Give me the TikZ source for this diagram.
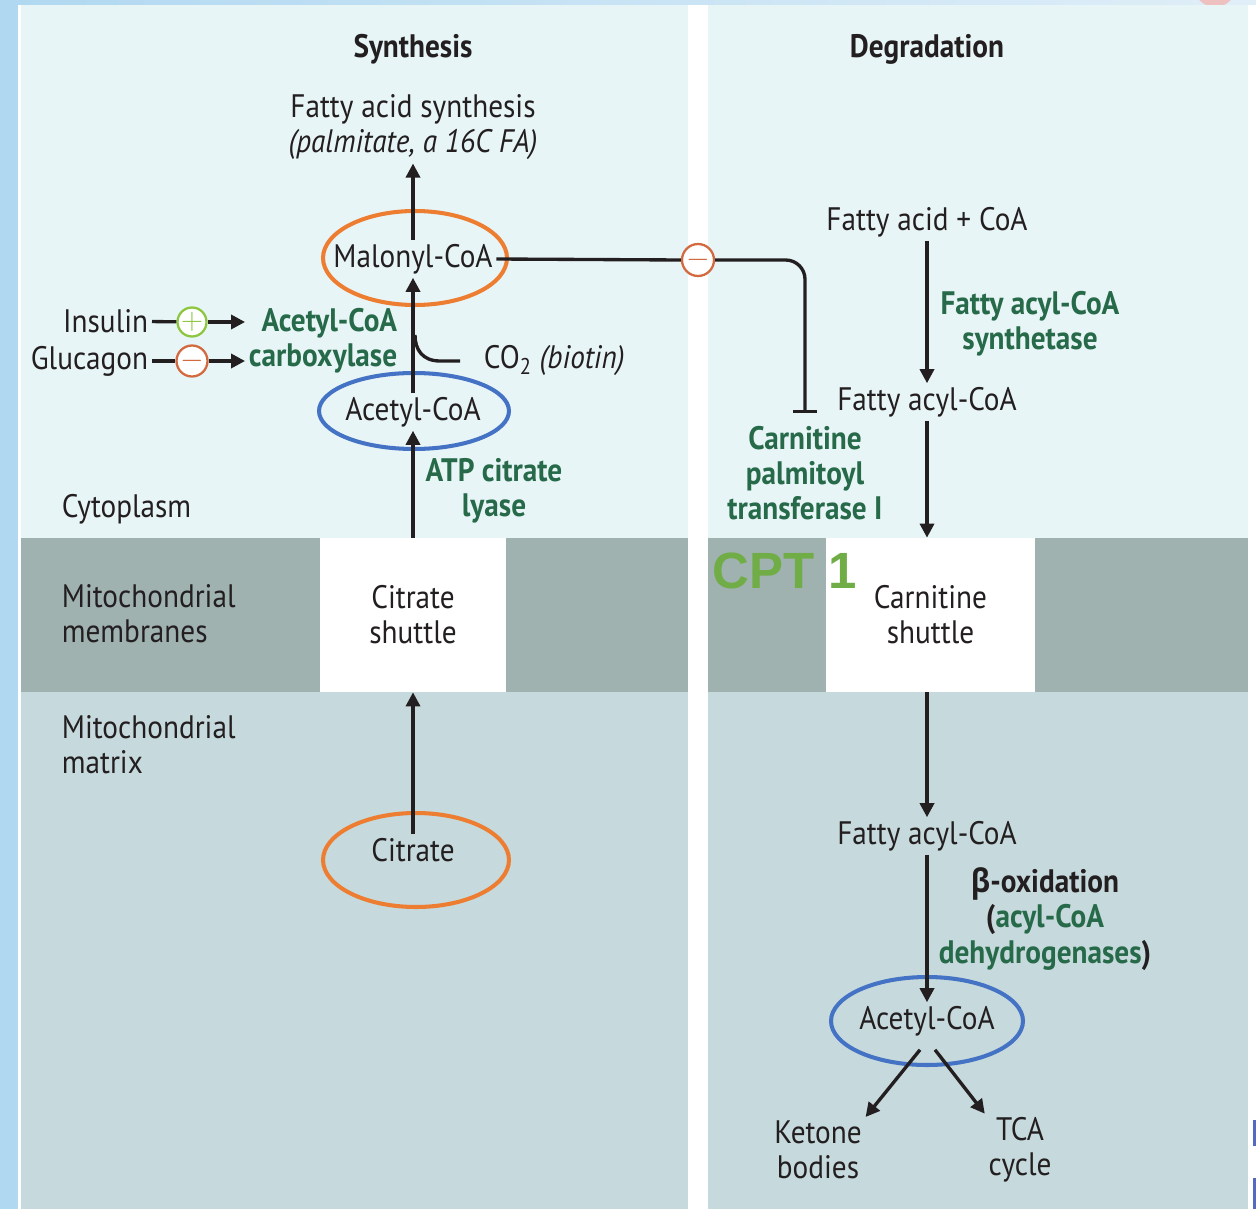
\documentclass[tikz,border=0pt]{standalone}
\usepackage{fontspec}
\setmainfont[FakeStretch=0.9]{PT Sans}
\newfontfamily\cptfont{Liberation Sans}
\newfontfamily\greekfont[FakeStretch=0.9]{Open Sans}
\usetikzlibrary{arrows.meta}

\definecolor{ink}{HTML}{231F20}
\definecolor{enzgreen}{HTML}{276A4A}
\definecolor{cptgreen}{HTML}{70AD47}
\definecolor{cytofill}{HTML}{E8F5F7}
\definecolor{memfill}{HTML}{9FB2B0}
\definecolor{matfill}{HTML}{C6D9DC}
\definecolor{ringorange}{HTML}{ED7D31}
\definecolor{ringblue}{HTML}{4472C4}
\definecolor{plusgreen}{HTML}{8DC63F}
\definecolor{minusred}{HTML}{D2693F}
\definecolor{frameblue}{HTML}{B0D8F1}
\definecolor{framelight}{HTML}{E0EEF8}
\definecolor{cornerpink}{HTML}{EEC0C0}
\definecolor{edgeblue}{HTML}{5468C4}

\begin{document}
\begin{tikzpicture}[x=0.02cm,y=-0.02cm,
    every node/.style={font=\fontsize{18.5}{20}\selectfont, text=ink, inner sep=2pt},
    head/.style={font=\fontsize{18.5}{20}\selectfont\bfseries},
    lbl/.style={align=center},
    enz/.style={align=center, text=enzgreen, font=\fontsize{18.5}{20}\selectfont\bfseries},
    region/.style={anchor=west, align=left},
    shuttle/.style={fill=white, minimum height=3.08cm, align=center},
    line/.style={line width=1.9pt, draw=ink},
    arr/.style={line, -{Triangle[length=8pt,width=8pt]}},
    sign/.style={circle, draw, fill=white, line width=1.3pt, minimum size=0.58cm, inner sep=0pt},
    ring/.style={line width=2.3pt}
  ]
  \useasboundingbox (0,0) rectangle (1256,1209);

  % frame and panels
  \fill[white] (0,0) rectangle (1256,1209);
  \fill[frameblue] (0,0) rectangle (18,1209);
  \shade[left color=frameblue, right color=framelight] (0,0) rectangle (1256,5);
  \begin{scope}
    \clip (0,0) rectangle (1256,5);
    \fill[cornerpink] (1215,-14) circle [radius=0.42cm];
  \end{scope}
  \fill[edgeblue] (1253,1120) rectangle (1256,1146);
  \fill[edgeblue] (1253,1178) rectangle (1256,1209);
  \foreach \xa/\xb in {21/688, 708/1248} {
    \fill[cytofill] (\xa,5) rectangle (\xb,538);
    \fill[memfill] (\xa,538) rectangle (\xb,692);
    \fill[matfill] (\xa,692) rectangle (\xb,1209);
  }

  % synthesis side
  \node[head] (synth) at (413,49) {Synthesis};
  \node[lbl] (fasyn) at (413,127) {Fatty acid synthesis\\\textit{(palmitate, a 16C FA)}};
  \node (malonyl) at (413,259) {Malonyl-CoA};
  \node (acetylS) at (413,412) {Acetyl-CoA};
  \node[enz, align=right, anchor=east] (acc) at (401,341) {Acetyl-CoA\\carboxylase};
  \node[anchor=east] (insulin) at (152,321) {Insulin};
  \node[anchor=east] (glucagon) at (152,361) {Glucagon};
  \node[sign, draw=plusgreen] (pos) at (192,322) {\color{plusgreen}$+$};
  \node[sign, draw=minusred] (neg) at (192,361) {\color{minusred}$-$};
  \node[anchor=west] (co2) at (480,361) {CO\textsubscript{2} \textit{(biotin)}};
  \node[enz] (acl) at (494,491) {ATP citrate\\lyase};
  \node[region] (cyto) at (58,509) {Cytoplasm};
  \node[region] (memb) at (58,614) {Mitochondrial\\membranes};
  \node[region] (matrix) at (58,745) {Mitochondrial\\matrix};
  \node[shuttle, minimum width=3.72cm] (shuttleL) at (413,615) {Citrate\\shuttle};
  \node (citrate) at (413,850) {Citrate};

  \draw[ringorange, ring] (415,258) ellipse [x radius=1.84cm, y radius=0.94cm];
  \draw[ringblue, ring] (414,411) ellipse [x radius=1.9cm, y radius=0.76cm];
  \draw[ringorange, ring] (416,860) ellipse [x radius=1.86cm, y radius=0.94cm];

  \draw[arr] (malonyl) -- (fasyn);
  \draw[arr] (acetylS) -- (malonyl);
  \draw[line] (co2.west) ++(-20,0) -- ++(-20,0) .. controls +(-18,0) and +(0,14) .. ++(-25,-26);
  \draw[line] (insulin) -- (pos);
  \draw[arr] (pos) -- (pos -| acc.west);
  \draw[line] (glucagon) -- (neg);
  \draw[arr] (neg) -- (neg -| acc.west);
  \draw[arr] (shuttleL) -- (acetylS);
  \draw[arr] (citrate) -- (shuttleL);

  % degradation side
  \node[head] (degr) at (927,49) {Degradation};
  \node (facoa) at (927,222) {Fatty acid + CoA};
  \node[enz] (facs) at (1030,324) {Fatty acyl-CoA\\synthetase};
  \node (acyl1) at (927,402) {Fatty acyl-CoA};
  \node[enz] (cpt) at (805,473) {Carnitine\\palmitoyl\\transferase I};
  \node[shuttle, minimum width=4.18cm] (shuttleR) at (930.5,615) {Carnitine\\shuttle};
  \node[anchor=base west, text=cptgreen, font=\fontsize{29}{30}\cptfont\bfseries] (cpt1) at (709,588) {CPT 1};
  \node (acyl2) at (927,836) {Fatty acyl-CoA};
  \node[enz] (betaox) at (1045,919) {{\color{ink}{\greekfont β}-oxidation}\\{\color{ink}(}acyl-CoA\\dehydrogenases{\color{ink})}};
  \node (acetylD) at (927,1021) {Acetyl-CoA};
  \node[lbl] (ketone) at (818,1150) {Ketone\\bodies};
  \node[lbl] (tca) at (1020,1150) {TCA\\cycle};

  \draw[ringblue, ring] (927,1021) ellipse [x radius=1.92cm, y radius=0.88cm];

  \node[sign, draw=minusred, minimum size=0.64cm] (inhib) at (698,260) {\color{minusred}$-$};
  \draw[line] (malonyl.east) -- (inhib.west);
  \draw[line, rounded corners=11pt, -{Bar[width=14pt]}] (inhib.east) -| ([yshift=5pt]cpt.north);

  \draw[arr] (facoa) -- (acyl1);
  \draw[arr] (acyl1) -- (acyl1 |- shuttleR.north);
  \draw[arr] (shuttleR.south -| acyl2) -- (acyl2);
  \draw[arr] (acyl2) -- (acetylD);
  \draw[arr] (acetylD.south) ++(-7,10) -- (ketone.north east);
  \draw[arr] (acetylD.south) ++(8,10) -- (tca.north west);
\end{tikzpicture}
\end{document}
